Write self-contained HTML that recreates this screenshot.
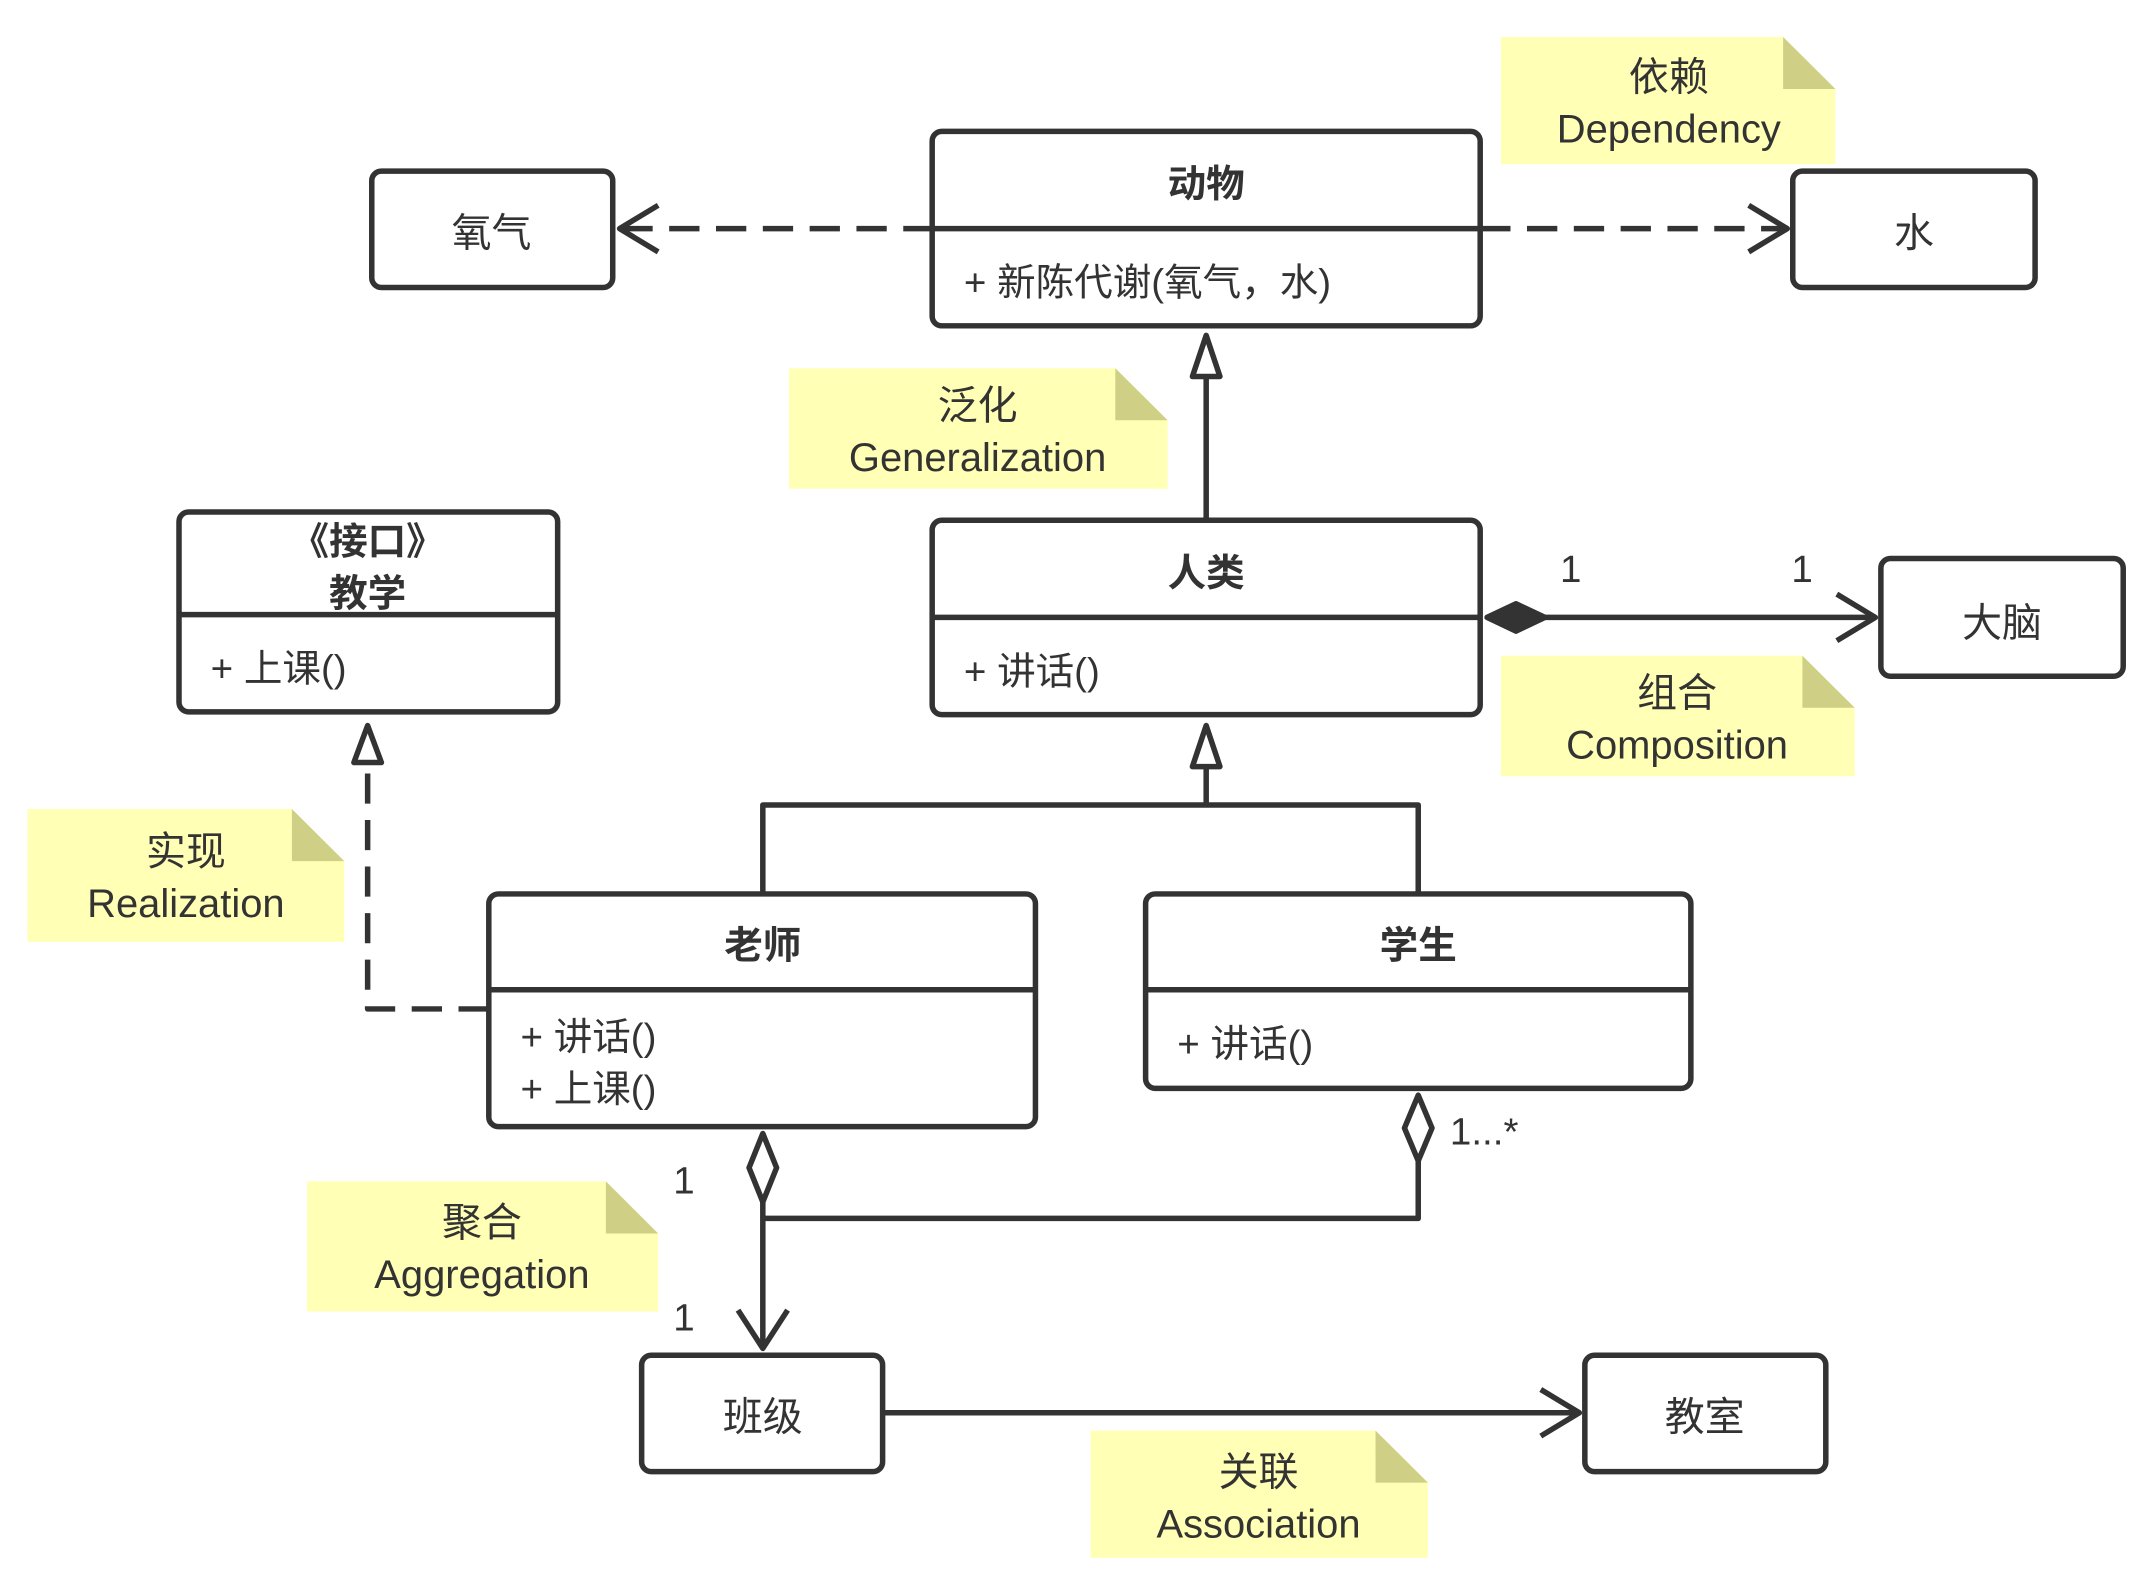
<!DOCTYPE html>
<html><head><meta charset="utf-8"><style>
html,body{margin:0;padding:0;background:#fff;}
svg{display:block;}
text{font-family:"Liberation Sans","Noto Sans CJK SC",sans-serif;fill:#333;}
.b{font-weight:bold;}
</style></head><body>
<svg width="2148" height="1588" viewBox="0 0 1560 1160" preserveAspectRatio="none" xmlns="http://www.w3.org/2000/svg">
<g fill="none" stroke="#333" stroke-width="4" stroke-linejoin="round">
<!-- boxes -->
<rect x="270" y="125" width="175" height="85" rx="7"/>
<rect x="1302" y="125" width="176" height="85" rx="7"/>
<rect x="677" y="96" width="398" height="142" rx="7"/>
<line x1="677" y1="167" x2="1075" y2="167"/>
<rect x="677" y="380" width="398" height="142" rx="7"/>
<line x1="677" y1="451" x2="1075" y2="451"/>
<rect x="1366" y="408" width="176" height="86" rx="7"/>
<rect x="130" y="374" width="275" height="146" rx="7"/>
<line x1="130" y1="449" x2="405" y2="449"/>
<rect x="355" y="653" width="397" height="170" rx="7"/>
<line x1="355" y1="723" x2="752" y2="723"/>
<rect x="832" y="653" width="396" height="142" rx="7"/>
<line x1="832" y1="723" x2="1228" y2="723"/>
<rect x="466" y="990" width="175" height="85" rx="7"/>
<rect x="1151" y="990" width="175" height="85" rx="7"/>
<!-- dependency -->
<line x1="452" y1="167" x2="677" y2="167" stroke-dasharray="22,12"/>
<polyline points="478,150 450,167 478,184"/>
<line x1="1075" y1="167" x2="1296" y2="167" stroke-dasharray="22,12"/>
<polyline points="1270,150 1298,167 1270,184"/>
<!-- generalization -->
<line x1="876" y1="275" x2="876" y2="380"/>
<polygon points="876,245 866,275 886,275"/>
<line x1="876" y1="560" x2="876" y2="588"/>
<polygon points="876,530 866,560 886,560"/>
<polyline points="554,653 554,588 1030,588 1030,653"/>
<!-- composition -->
<line x1="1122" y1="451" x2="1360" y2="451"/>
<polygon points="1080,451 1101,441 1122,451 1101,461" fill="#333"/>
<polyline points="1334,434 1362,451 1334,468"/>
<!-- realization -->
<polyline points="355,737 267,737 267,557" stroke-dasharray="22,12"/>
<polygon points="267,530 257,557 277,557"/>
<!-- aggregation -->
<polygon points="554,828 544,853 554,878 564,853" fill="#fff"/>
<line x1="554" y1="878" x2="554" y2="985"/>
<polyline points="536,957 554,985 572,957"/>
<polygon points="1030,800 1020,824 1030,848 1040,824" fill="#fff"/>
<polyline points="554,890 1030,890 1030,848"/>
<!-- association -->
<line x1="641" y1="1032" x2="1147" y2="1032"/>
<polyline points="1119,1015 1147,1032 1119,1049"/>
</g>
<!-- notes -->
<g>
<polygon points="1090,27 1295,27 1333,65 1333,120 1090,120" fill="#ffffb5"/><polygon points="1295,27 1333,65 1295,65" fill="#cfcf86"/>
<polygon points="573,269 810,269 848,307 848,357 573,357" fill="#ffffb5"/><polygon points="810,269 848,307 810,307" fill="#cfcf86"/>
<polygon points="1090,479 1309,479 1347,517 1347,567 1090,567" fill="#ffffb5"/><polygon points="1309,479 1347,517 1309,517" fill="#cfcf86"/>
<polygon points="20,591 212,591 250,629 250,688 20,688" fill="#ffffb5"/><polygon points="212,591 250,629 212,629" fill="#cfcf86"/>
<polygon points="223,863 440,863 478,901 478,958 223,958" fill="#ffffb5"/><polygon points="440,863 478,901 440,901" fill="#cfcf86"/>
<polygon points="792,1045 999,1045 1037,1083 1037,1138 792,1138" fill="#ffffb5"/><polygon points="999,1045 1037,1083 999,1083" fill="#cfcf86"/>
</g>
<g font-size="29" text-anchor="middle">
<text x="1212" y="66">依赖</text><text x="1212" y="104">Dependency</text>
<text x="710" y="306">泛化</text><text x="710" y="344">Generalization</text>
<text x="1218" y="516">组合</text><text x="1218" y="554">Composition</text>
<text x="135" y="632">实现</text><text x="135" y="670">Realization</text>
<text x="350" y="903">聚合</text><text x="350" y="941">Aggregation</text>
<text x="914" y="1085">关联</text><text x="914" y="1123">Association</text>
<text x="357" y="180">氧气</text><text x="1390" y="180">水</text>
<text x="1454" y="465">大脑</text>
<text x="554" y="1045">班级</text><text x="1238" y="1045">教室</text>
<text class="b" x="876" y="144" font-size="28">动物</text>
<text class="b" x="876" y="428" font-size="28">人类</text>
<text class="b" x="267" y="405" font-size="28">《接口》</text>
<text class="b" x="267" y="443" font-size="28">教学</text>
<text class="b" x="554" y="700" font-size="28">老师</text>
<text class="b" x="1030" y="700" font-size="28">学生</text>
</g>
<g font-size="28">
<text x="700" y="216">+ 新陈代谢(氧气，水)</text>
<text x="700" y="500">+ 讲话()</text>
<text x="153" y="498">+ 上课()</text>
<text x="378" y="767">+ 讲话()</text>
<text x="378" y="805">+ 上课()</text>
<text x="855" y="772">+ 讲话()</text>
<text x="1133" y="425">1</text><text x="1301" y="425">1</text>
<text x="489" y="872">1</text><text x="489" y="972">1</text>
<text x="1053" y="836">1...*</text>
</g>
</svg>
</body></html>
